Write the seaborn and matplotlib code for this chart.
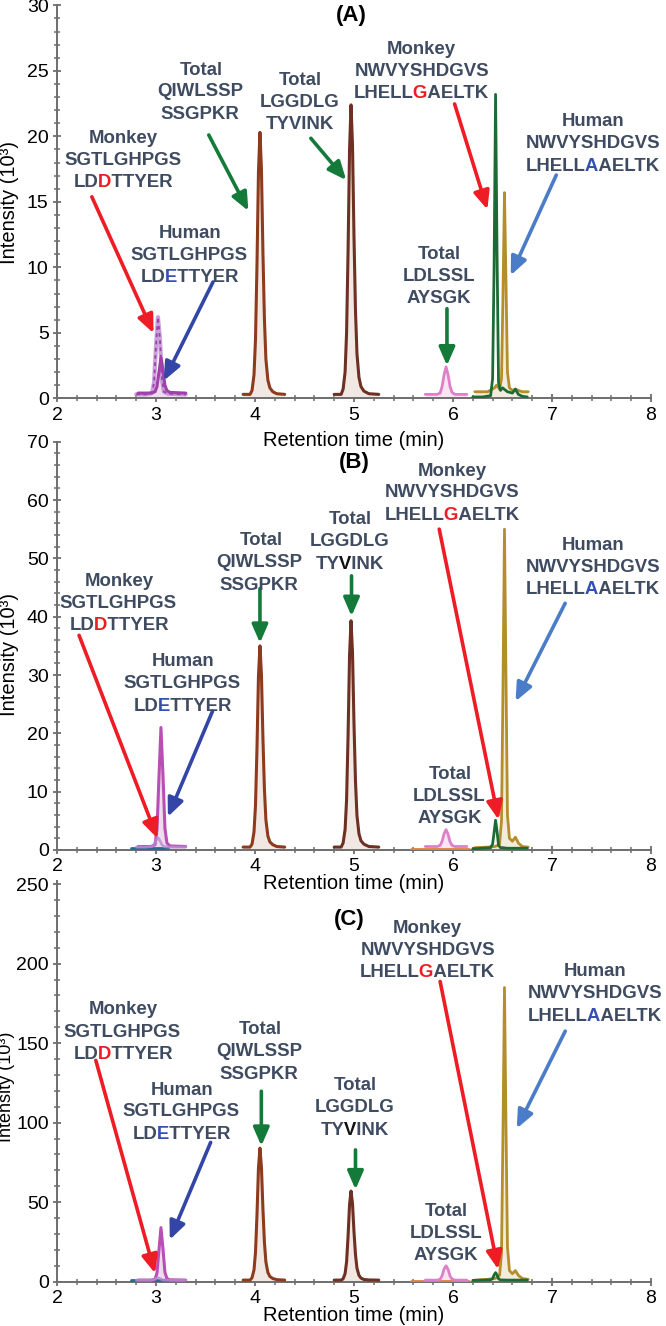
import numpy as np
import pandas as pd
import seaborn as sns
import matplotlib
matplotlib.use("Agg")
import matplotlib.pyplot as plt
from matplotlib.ticker import MultipleLocator
from matplotlib.transforms import Bbox

# ---------------- data ----------------
# retention-time grids (min) for each chromatographic trace
t_monkey_sg = [2.80, 2.90, 2.96, 2.98, 3.00, 3.02, 3.04, 3.06, 3.08, 3.12, 3.30]
t_human_sg = [2.82, 2.95, 2.99, 3.01, 3.03, 3.05, 3.07, 3.09, 3.11, 3.14, 3.30]
t_qiw = [3.88, 3.95, 3.97, 3.99, 4.005, 4.02, 4.035, 4.05, 4.065, 4.08, 4.095, 4.11, 4.13, 4.15, 4.18, 4.22, 4.30]
t_lgg = [4.80, 4.87, 4.89, 4.91, 4.925, 4.94, 4.955, 4.97, 4.985, 5.00, 5.015, 5.03, 5.05, 5.07, 5.10, 5.15, 5.25]
t_ldl = [5.72, 5.84, 5.87, 5.89, 5.91, 5.93, 5.95, 5.97, 5.99, 6.02, 6.14]
t_monkey_nw = [6.20, 6.30, 6.38, 6.40, 6.415, 6.43, 6.445, 6.46, 6.48, 6.50, 6.55, 6.60, 6.63, 6.66, 6.70, 6.75]
t_human_nw = [6.22, 6.35, 6.42, 6.44, 6.47, 6.49, 6.505, 6.52, 6.535, 6.55, 6.57, 6.60, 6.63, 6.66, 6.70, 6.76]
t_base_sg = [2.75, 3.12]
t_base_ldl = [5.58, 6.16]

# intensities (10^3) panel A
A_monkey_sg = [0.3, 0.3, 0.4, 1.2, 4.0, 6.2, 4.5, 1.5, 0.5, 0.35, 0.3]
A_human_sg = [0.4, 0.4, 0.5, 0.9, 2.0, 3.1, 2.2, 1.0, 0.6, 0.45, 0.4]
A_qiw = [0.3, 0.3, 0.6, 1.8, 4.5, 10.2, 17.3, 20.3, 17.5, 11.2, 6.1, 3.0, 1.4, 0.8, 0.5, 0.35, 0.3]
A_lgg = [0.3, 0.3, 0.7, 2.0, 5.0, 11.2, 19.0, 22.4, 19.3, 12.3, 6.7, 3.4, 1.6, 0.9, 0.55, 0.35, 0.3]
A_ldl = [0.3, 0.3, 0.4, 0.9, 1.8, 2.4, 1.8, 0.9, 0.45, 0.3, 0.3]
A_monkey_nw = [0.1, 0.1, 0.2, 1.5, 10.0, 23.2, 11.0, 1.2, 0.6, 0.8, 0.5, 0.4, 0.7, 0.3, 0.15, 0.1]
A_human_nw = [0.5, 0.5, 0.8, 1.0, 0.7, 1.5, 8.0, 15.7, 9.0, 2.0, 0.8, 0.6, 0.7, 0.6, 0.5, 0.5]
A_base_sg = [0.0, 0.0]
A_base_ldl = [0.0, 0.0]

# panel B
B_monkey_sg = [0.5, 0.5, 0.6, 0.9, 1.7, 2.1, 1.6, 0.9, 0.6, 0.5, 0.5]
B_human_sg = [0.6, 0.6, 0.9, 3.5, 12.5, 21.0, 13.0, 3.8, 1.2, 0.7, 0.6]
B_qiw = [0.5, 0.5, 1.0, 3.1, 7.7, 17.5, 29.8, 35.0, 30.1, 19.3, 10.5, 5.2, 2.4, 1.4, 0.9, 0.6, 0.5]
B_lgg = [0.5, 0.5, 1.2, 3.5, 8.6, 19.6, 33.4, 39.3, 33.8, 21.6, 11.8, 5.9, 2.8, 1.6, 1.0, 0.6, 0.5]
B_ldl = [0.6, 0.6, 0.8, 1.5, 2.8, 3.5, 2.7, 1.4, 0.8, 0.6, 0.6]
B_monkey_nw = [0.2, 0.3, 0.4, 1.0, 3.0, 5.1, 3.2, 0.8, 0.4, 0.4, 0.3, 0.3, 0.3, 0.3, 0.3, 0.3]
B_human_nw = [0.4, 0.5, 0.6, 0.7, 1.0, 5.0, 28.0, 55.0, 30.0, 6.0, 2.0, 1.5, 2.2, 1.2, 0.6, 0.5]
B_base_sg = [0.3, 0.3]
B_base_ldl = [0.2, 0.2]

# panel C
C_monkey_sg = [1.0, 1.0, 1.0, 1.3, 2.0, 2.5, 2.0, 1.3, 1.0, 1.0, 1.0]
C_human_sg = [1.0, 1.0, 1.5, 5.5, 20.0, 34.0, 21.0, 6.0, 2.0, 1.2, 1.0]
C_qiw = [1.0, 1.0, 2.5, 7.5, 18.5, 42.0, 71.5, 84.0, 72.0, 46.0, 25.0, 12.5, 5.8, 3.3, 2.0, 1.3, 1.0]
C_lgg = [1.0, 1.0, 1.8, 5.1, 12.5, 28.5, 48.5, 57.0, 49.0, 31.3, 17.1, 8.5, 4.0, 2.3, 1.4, 1.1, 1.0]
C_ldl = [1.0, 1.0, 1.5, 3.8, 8.0, 10.0, 7.8, 3.6, 1.6, 1.0, 1.0]
C_monkey_nw = [0.8, 1.0, 1.2, 2.0, 4.2, 5.7, 4.2, 1.8, 1.1, 1.1, 1.0, 1.0, 1.0, 1.0, 1.0, 1.0]
C_human_nw = [1.0, 1.5, 2.0, 2.5, 4.0, 18.0, 95.0, 185.0, 100.0, 22.0, 7.0, 5.0, 7.0, 4.0, 2.0, 1.5]
C_base_sg = [0.8, 0.8]
C_base_ldl = [0.6, 0.6]

# peptide label texts
lab_monkey_sg = ["Monkey", "SGTLGHPGS", "LDDTTYER"]
lab_human_sg = ["Human", "SGTLGHPGS", "LDETTYER"]
lab_qiw = ["Total", "QIWLSSP", "SSGPKR"]
lab_lgg = ["Total", "LGGDLG", "TYVINK"]
lab_monkey_nw = ["Monkey", "NWVYSHDGVS", "LHELLGAELTK"]
lab_human_nw = ["Human", "NWVYSHDGVS", "LHELLAAELTK"]
lab_ldl = ["Total", "LDLSSL", "AYSGK"]
panel_titles = ["(A)", "(B)", "(C)"]
x_ticks = [2, 3, 4, 5, 6, 7, 8]
x_label = "Retention time (min)"
y_label = "Intensity (10³)"

# ---------------- style ----------------
sns.set_theme(style="ticks")
FONT = ["Liberation Sans", "DejaVu Sans"]
plt.rcParams["font.family"] = FONT

DPI = 100
W, H = 666, 1326
fig = plt.figure(figsize=(W / DPI, H / DPI), dpi=DPI)
fig.patch.set_facecolor("white")

TEXT_C = "#3f4b60"
RED = "#ee1c24"
BLUE_T = "#3550b5"
BLUE_D = "#3346a8"
BLUE_L = "#4a7cc8"
GREEN = "#137a3a"
BLACK = "#111111"

C_PURPLE_L = "#b98ad0"
C_PURPLE = "#a13fab"
C_MAGENTA = "#b94fb5"
C_BROWN1 = "#8e3a1c"
C_BROWN2 = "#6e3022"
C_PINK = "#dd80c8"
C_GREEN = "#1c6b34"
C_GOLD = "#b58e2c"
C_TEAL = "#1f6f8b"
C_ORANGE = "#e0803a"
FILL_BROWN = "#f1e7e3"
FILL_PINK = "#f9e4f3"
FILL_GOLD = "#f1ecdc"
FILL_MAG = "#efdcef"

x_left, x_right = 57, 651
panels_px = [(398.3, 5.3), (850.0, 441.7), (1281.7, 881.0)]
ylims = [30, 70, 252]
ymajor = [5, 10, 50]
yminor = [1, 2, 10]
xlabel_pads = [5, -1, -1]

FS_LAB = 13.4
FS_TICK = 14
CAP_OFF_PX = 0.716 * FS_LAB * DPI / 72.0 / 2.0

_ink = {}


def ink(s):
    """Measured ink column range of a label string, relative to its anchor."""
    if s in _ink:
        return _ink[s]
    f2 = plt.figure(figsize=(6, 1), dpi=DPI)
    f2.patch.set_facecolor("white")
    f2.text(100 / 600, 0.5, s, fontsize=FS_LAB, fontweight="bold", family=FONT,
            ha="left", va="center", color="black")
    f2.canvas.draw()
    img = np.asarray(f2.canvas.buffer_rgba())[:, :, 0]
    cols = np.where((img < 200).any(axis=0))[0]
    plt.close(f2)
    res = (cols.min() - 100.0, cols.max() + 1 - 100.0)
    _ink[s] = res
    return res


def put_clip(x_anchor, y_base, s, color, clip=None):
    t = fig.text(x_anchor / W, y_base / H, s, ha="left", va="baseline",
                 color=color, fontsize=FS_LAB, fontweight="bold", family=FONT)
    if clip is not None:
        t.set_clip_box(Bbox.from_extents(clip[0], y_base - 40, clip[1], y_base + 40))
        t.set_clip_on(True)
    return t


def draw_line(ax, x, y, s, hl):
    cx, cy = ax.transData.transform((x, y))
    yb = cy - CAP_OFF_PX
    fl, fr = ink(s)
    anchor = cx - (fl + fr) / 2.0
    if hl is None:
        put_clip(anchor, yb, s, TEXT_C)
        return
    i, c = hl
    pre, ch, suf = s[:i], s[i], s[i + 1:]
    cl, cr = ink(ch)
    cw = cr - cl
    _, pcr = ink(pre + ch)
    ch_left, ch_right = pcr - cw, pcr
    if pre:
        _, pr = ink(pre)
        cut1 = (pr + ch_left) / 2.0
    else:
        cut1 = ch_left - 1
    if suf:
        sl, sr = ink(suf)
        suf_left = fr - (sr - sl)
        cut2 = (ch_right + suf_left) / 2.0
    else:
        cut2 = ch_right + 1
    put_clip(anchor, yb, s, TEXT_C, (anchor - 50, anchor + cut1))
    put_clip(anchor, yb, s, c, (anchor + cut1, anchor + cut2))
    put_clip(anchor, yb, s, TEXT_C, (anchor + cut2, anchor + 400))


def draw_block(ax, x, ys, lines, hls):
    for y, s, hl in zip(ys, lines, hls):
        draw_line(ax, x, y, s, hl)


def arrow(ax, x0, y0, x1, y1, color):
    ax.annotate("", xy=(x1, y1), xytext=(x0, y0),
                arrowprops=dict(arrowstyle="-|>,head_length=0.55,head_width=0.24",
                                color=color, lw=2.6, mutation_scale=20,
                                shrinkA=0, shrinkB=0),
                annotation_clip=False)


def trace(ax, t, v, color, lw=2.0, fill=None, ls="-", alpha=1.0):
    if fill is not None:
        ax.fill_between(t, 0, v, color=fill, lw=0, zorder=1)
    sns.lineplot(x=t, y=v, ax=ax, color=color, lw=lw, linestyle=ls,
                 estimator=None, sort=False, alpha=alpha, zorder=3)


data = [
    dict(msg=A_monkey_sg, hsg=A_human_sg, qiw=A_qiw, lgg=A_lgg, ldl=A_ldl,
         mnw=A_monkey_nw, hnw=A_human_nw, bsg=A_base_sg, bldl=A_base_ldl),
    dict(msg=B_monkey_sg, hsg=B_human_sg, qiw=B_qiw, lgg=B_lgg, ldl=B_ldl,
         mnw=B_monkey_nw, hnw=B_human_nw, bsg=B_base_sg, bldl=B_base_ldl),
    dict(msg=C_monkey_sg, hsg=C_human_sg, qiw=C_qiw, lgg=C_lgg, ldl=C_ldl,
         mnw=C_monkey_nw, hnw=C_human_nw, bsg=C_base_sg, bldl=C_base_ldl),
]

layouts = [
    dict(msg=(2.674, [19.97, 18.3, 16.66]), hsg=(3.34, [12.76, 11.1, 9.39]),
         qiw=(3.448, [25.2, 23.55, 21.84]), lgg=(4.449, [24.44, 22.78, 21.07]),
         mnw=(5.681, [26.79, 25.13, 23.42]), hnw=(7.408, [21.3, 19.59, 17.88]),
         ldl=(5.853, [11.17, 9.46, 7.8]), title=(4.977, 29.2)),
    dict(msg=(2.63, [46.4, 42.6, 38.8]), hsg=(3.27, [32.7, 28.9, 25.0]),
         qiw=(4.05, [53.5, 49.7, 45.8]), lgg=(4.95, [57.0, 53.2, 49.4]),
         mnw=(5.99, [65.3, 61.6, 57.8]), hnw=(7.41, [52.5, 48.8, 45.1]),
         ldl=(5.96, [13.4, 9.6, 5.7]), title=(5.0, 66.4)),
    dict(msg=(2.67, [172.4, 158.2, 144.1]), hsg=(3.258, [121.9, 108.2, 93.9]),
         qiw=(4.043, [159.9, 146.0, 131.9]), lgg=(5.0, [124.9, 110.8, 96.6]),
         mnw=(5.74, [223.2, 209.5, 195.6]), hnw=(7.43, [196.6, 182.5, 168.4]),
         ldl=(5.923, [45.8, 31.6, 17.9]), title=(4.955, 228.0)),
]

arrows = [
    [(2.352, 15.38, 2.975, 4.97, RED), (3.576, 8.88, 3.08, 1.35, BLUE_D),
     (3.533, 20.1, 3.933, 14.31, GREEN), (4.564, 19.85, 4.921, 16.66, GREEN),
     (6.016, 22.47, 6.347, 14.41, RED), (7.043, 17.04, 6.583, 9.39, BLUE_L),
     (5.939, 6.84, 5.939, 2.5, GREEN)],
    [(2.223, 36.8, 3.015, 2.0, RED), (3.571, 23.8, 3.12, 5.7, BLUE_D),
     (4.05, 44.8, 4.05, 35.5, GREEN), (4.975, 47.0, 4.975, 40.1, GREEN),
     (5.861, 55.0, 6.46, 5.2, RED), (7.133, 42.3, 6.632, 25.5, BLUE_L)],
    [(2.392, 139.2, 2.99, 5.3, RED), (3.552, 87.6, 3.139, 26.4, BLUE_D),
     (4.064, 119.8, 4.064, 85.4, GREEN), (5.015, 82.9, 5.015, 58.0, GREEN),
     (5.87, 188.8, 6.456, 7.8, RED), (7.134, 157.6, 6.644, 96.4, BLUE_L)],
]

ylabel_px = [(10, 202, 14.5), (10, 655, 14.5), (7, 1087, 13.0)]

for k in range(3):
    ybot, ytop = panels_px[k]
    ax = fig.add_axes([x_left / W, 1 - ybot / H, (x_right - x_left) / W, (ybot - ytop) / H])
    ax.set_facecolor("none")
    d = data[k]

    if k == 0:
        trace(ax, t_monkey_sg, d["msg"], C_PURPLE_L, lw=3.0, alpha=0.8)
        trace(ax, t_monkey_sg, d["msg"], C_PURPLE, lw=1.3, ls=(0, (2, 2)))
        trace(ax, t_human_sg, d["hsg"], C_PURPLE, lw=2.2, fill=FILL_MAG)
    else:
        trace(ax, t_base_sg, d["bsg"], C_TEAL, lw=2.0)
        trace(ax, t_base_ldl, d["bldl"], C_ORANGE, lw=2.0)
        trace(ax, t_human_sg, d["hsg"], C_MAGENTA, lw=2.2, fill=FILL_MAG)
        trace(ax, t_monkey_sg, d["msg"], C_PURPLE_L, lw=2.0, alpha=0.8)
    trace(ax, t_qiw, d["qiw"], C_BROWN1, lw=2.2, fill=FILL_BROWN)
    trace(ax, t_lgg, d["lgg"], C_BROWN2, lw=2.2, fill=FILL_BROWN)
    trace(ax, t_ldl, d["ldl"], C_PINK, lw=2.0, fill=FILL_PINK)
    trace(ax, t_human_nw, d["hnw"], C_GOLD, lw=2.0, fill=FILL_GOLD)
    trace(ax, t_monkey_nw, d["mnw"], C_GREEN, lw=2.0)

    ax.set_xlim(2, 8)
    ax.set_xticks(x_ticks)
    ax.set_xticklabels([str(v) for v in x_ticks])
    ax.xaxis.set_minor_locator(MultipleLocator(0.2))
    ax.yaxis.set_major_locator(MultipleLocator(ymajor[k]))
    ax.yaxis.set_minor_locator(MultipleLocator(yminor[k]))
    ax.set_ylim(0, ylims[k])
    sns.despine(ax=ax)
    for sp in ("left", "bottom"):
        ax.spines[sp].set_color("#6e6e6e")
        ax.spines[sp].set_linewidth(1.4)
        ax.spines[sp].set_zorder(2)
    ax.tick_params(which="major", direction="inout", length=6, width=1.3,
                   color="#6e6e6e", labelsize=FS_TICK, labelcolor="black", pad=3)
    ax.tick_params(which="minor", direction="inout", length=4, width=1.1,
                   color="#6e6e6e")
    for lab in ax.get_xticklabels() + ax.get_yticklabels():
        lab.set_family(FONT)
    ax.set_xlabel(x_label, fontsize=14.5, color="black", labelpad=xlabel_pads[k], family=FONT)
    ax.set_ylabel("")

    lay = layouts[k]
    draw_block(ax, *lay["msg"], lab_monkey_sg, [None, None, (2, RED)])
    draw_block(ax, *lay["hsg"], lab_human_sg, [None, None, (2, BLUE_T)])
    draw_block(ax, *lay["qiw"], lab_qiw, [None, None, None])
    draw_block(ax, *lay["lgg"], lab_lgg, [None, None, None if k == 0 else (2, BLACK)])
    draw_block(ax, *lay["mnw"], lab_monkey_nw, [None, None, (5, RED)])
    draw_block(ax, *lay["hnw"], lab_human_nw, [None, None, (5, BLUE_T)])
    draw_block(ax, *lay["ldl"], lab_ldl, [None, None, None])
    tx, ty = lay["title"]
    ax.text(tx, ty, panel_titles[k], ha="center", va="center", fontsize=16,
            fontweight="bold", color="black", family=FONT)

    for x0, y0, x1, y1, c in arrows[k]:
        arrow(ax, x0, y0, x1, y1, c)

    lx, ly, lfs = ylabel_px[k]
    fig.text(lx / W, 1 - ly / H, y_label, rotation=90, ha="center", va="center",
             fontsize=lfs, color="black", family=FONT)

fig.savefig("out.png", dpi=DPI, facecolor="white")
